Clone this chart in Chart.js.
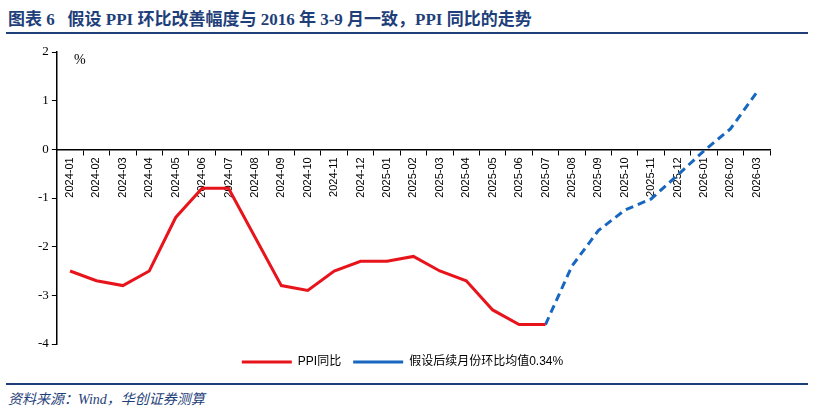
<!DOCTYPE html>
<html>
<head>
<meta charset="utf-8">
<script src="https://cdn.jsdelivr.net/npm/chart.js@4"></script>
<style>
  body { margin: 0; width: 814px; height: 414px; background: #fff; position: relative; overflow: hidden; }
  #title { position: absolute; left: 8px; top: 5px; font: bold 17px "Liberation Serif", "Noto Sans CJK SC"; color: #1f3f7a; }
  #rule1 { position: absolute; left: 6px; right: 6px; top: 32px; border-top: 2px solid #1f3f7a; }
  #rule2 { position: absolute; left: 6px; right: 6px; top: 383px; border-top: 2px solid #1f3f7a; }
  #source { position: absolute; left: 8px; top: 388px; font: italic 14px "Liberation Serif", "Noto Sans CJK SC"; color: #1f3f7a; }
  #unit { position: absolute; left: 74px; top: 52px; font: 14px "Liberation Serif"; }
  #wrap { position: absolute; left: 0; top: 40px; width: 814px; height: 338px; }
</style>
</head>
<body>
<div id="title">图表 6&nbsp;&nbsp;&nbsp;假设 PPI 环比改善幅度与 2016 年 3-9 月一致，PPI 同比的走势</div>
<div id="rule1"></div>
<div id="wrap"><canvas id="chart"></canvas></div>
<div id="unit">%</div>
<div id="rule2"></div>
<div id="source">资料来源：Wind，华创证券测算</div>
<script>
const months = ["2024-01","2024-02","2024-03","2024-04","2024-05","2024-06","2024-07","2024-08","2024-09","2024-10","2024-11","2024-12",
  "2025-01","2025-02","2025-03","2025-04","2025-05","2025-06","2025-07","2025-08","2025-09","2025-10","2025-11","2025-12",
  "2026-01","2026-02","2026-03"];
const ppiYoy = [-2.5,-2.7,-2.8,-2.5,-1.4,-0.8,-0.8,-1.8,-2.8,-2.9,-2.5,-2.3,-2.3,-2.2,-2.5,-2.7,-3.3,-3.6,-3.6];
const ppiAssumed = [null,null,null,null,null,null,null,null,null,null,null,null,null,null,null,null,null,null,
  -3.6,-2.4,-1.67,-1.25,-1.02,-0.53,-0.03,0.42,1.17];
const yTicks = { min: -4, max: 2, step: 1 };

new Chart(document.getElementById("chart"), {
  type: "line",
  data: {
    labels: months,
    datasets: [
      { label: "PPI同比", data: ppiYoy, borderColor: "#e8141c", borderWidth: 3, pointRadius: 0, tension: 0 },
      { label: "假设后续月份环比均值0.34%", data: ppiAssumed, borderColor: "#1767c0", borderWidth: 3,
        borderDash: [8, 5], pointRadius: 0, tension: 0 },
    ],
  },
  options: {
    responsive: true,
    maintainAspectRatio: false,
    animation: false,
    layout: { padding: { left: 35, right: 44, top: 12 } },
    plugins: {
      legend: {
        position: "bottom",
        labels: {
          usePointStyle: true, pointStyle: "line", pointStyleWidth: 50,
          color: "#000", padding: 12,
          font: { family: "Liberation Sans, Noto Sans CJK SC", size: 12 },
        },
      },
      tooltip: { enabled: false },
    },
    scales: {
      x: {
        offset: true,
        position: { y: 0 },
        grid: { drawOnChartArea: false, offset: true, tickLength: 5, color: "#000" },
        border: { color: "#000", width: 1.5 },
        ticks: { minRotation: 90, maxRotation: 90, autoSkip: false, color: "#000",
          font: { family: "Liberation Sans", size: 11 } },
      },
      y: {
        min: yTicks.min, max: yTicks.max,
        grid: { drawOnChartArea: false, tickLength: 5, color: "#000" },
        border: { color: "#000", width: 1.5 },
        ticks: { stepSize: yTicks.step, color: "#000", font: { family: "Liberation Serif", size: 13 } },
      },
    },
  },
});
</script>
</body>
</html>
